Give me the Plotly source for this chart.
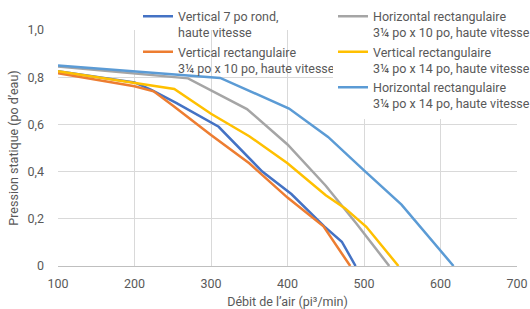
import plotly.graph_objects as go

names = [
    "Vertical 7 po rond,<br>haute vitesse",
    "Vertical rectangulaire<br>3¼ po x 10 po, haute vitesse",
    "Horizontal rectangulaire<br>3¼ po x 10 po, haute vitesse",
    "Vertical rectangulaire<br>3¼ po x 14 po, haute vitesse",
    "Horizontal rectangulaire<br>3¼ po x 14 po, haute vitesse",
]
colors = ["#4472C4", "#ED7D31", "#A5A5A5", "#FFC000", "#5B9BD5"]

x_v7 = [100, 200, 222, 255, 310, 367, 405, 448, 471, 489]
y_v7 = [0.825, 0.778, 0.746, 0.69, 0.59, 0.40, 0.305, 0.168, 0.103, 0.0]

x_v10 = [100, 200, 225, 250, 300, 350, 400, 447, 482]
y_v10 = [0.817, 0.762, 0.74, 0.68, 0.555, 0.435, 0.29, 0.168, 0.0]

x_h10 = [100, 270, 347, 400, 450, 490, 533]
y_h10 = [0.845, 0.795, 0.665, 0.515, 0.34, 0.18, 0.0]

x_v14 = [100, 200, 252, 300, 350, 400, 450, 475, 503, 545]
y_v14 = [0.825, 0.777, 0.75, 0.645, 0.55, 0.435, 0.30, 0.245, 0.166, 0.0]

x_h14 = [100, 312, 402, 453, 500, 549, 617]
y_h14 = [0.85, 0.797, 0.667, 0.547, 0.405, 0.26, 0.0]

xs = [x_v7, x_v10, x_h10, x_v14, x_h14]
ys = [y_v7, y_v10, y_h10, y_v14, y_h14]
legends = ["legend", "legend", "legend2", "legend2", "legend2"]

x_ticks = [100, 200, 300, 400, 500, 600, 700]
y_ticks = [0, 0.2, 0.4, 0.6, 0.8]
y_ticktext = ["0", "0,2", "0,4", "0,6", "0,8"]
y_top_tick = [1.0]
y_top_text = ["1,0"]

font_family = "Roboto"
fs = 12.5
lfs = 12.5
grey = "#595959"

fig = go.Figure()
for x, y, n, c, lg in zip(xs, ys, names, colors, legends):
    fig.add_trace(go.Scatter(x=x, y=y, name=n, mode="lines", legend=lg,
                             line=dict(color=c, width=2.5)))

# transparent copy on yaxis2 so that the top tick label (without grid line) is drawn
fig.add_trace(go.Scatter(x=x_h14, y=y_h14, yaxis="y2", showlegend=False,
                         mode="lines", opacity=0, hoverinfo="skip",
                         line=dict(width=0)))

legend_common = dict(borderwidth=0, valign="top",
                     font=dict(family=font_family, size=lfs, color=grey),
                     xanchor="left", yanchor="top", tracegroupgap=0)

fig.update_layout(
    width=530, height=309,
    margin=dict(l=58, r=13, t=30, b=43, autoexpand=False),
    paper_bgcolor="white", plot_bgcolor="white",
    font=dict(family=font_family, size=fs, color=grey),
    legend=dict(x=(138 - 58) / 459, y=(266 - 1.5) / 236,
                bgcolor="rgba(255,255,255,0)", **legend_common),
    legend2=dict(x=(333 - 58) / 459, y=(266 - 1.5) / 236,
                 bgcolor="white", **legend_common),
    xaxis=dict(range=[100, 700], tickvals=x_ticks, showgrid=True,
               gridcolor="#D9D9D9", gridwidth=1, zeroline=False,
               showline=True, linecolor="#BFBFBF", linewidth=1,
               ticks="", ticklabelstandoff=6, tickfont=dict(size=fs, color=grey),
               title=dict(text="Débit de l’air (pi³/min)", standoff=20,
                          font=dict(size=fs, color=grey))),
    yaxis=dict(range=[0, 1.0], tickvals=y_ticks, ticktext=y_ticktext,
               showgrid=True, gridcolor="#D9D9D9", gridwidth=1,
               zeroline=False, showline=False, ticks="", ticklabelstandoff=13,
               tickfont=dict(size=fs, color=grey),
               title=dict(text="Pression statique (po d’eau)", standoff=6,
                          font=dict(size=fs, color=grey))),
    yaxis2=dict(range=[0, 1.0], tickvals=y_top_tick, ticktext=y_top_text,
                overlaying="y", side="left", showgrid=False, zeroline=False,
                showline=False, ticks="", ticklabelstandoff=13,
                tickfont=dict(size=fs, color=grey)),
)

fig.write_html("out.html", config={"displayModeBar": False},
               post_script="document.body.style.margin='0';")
